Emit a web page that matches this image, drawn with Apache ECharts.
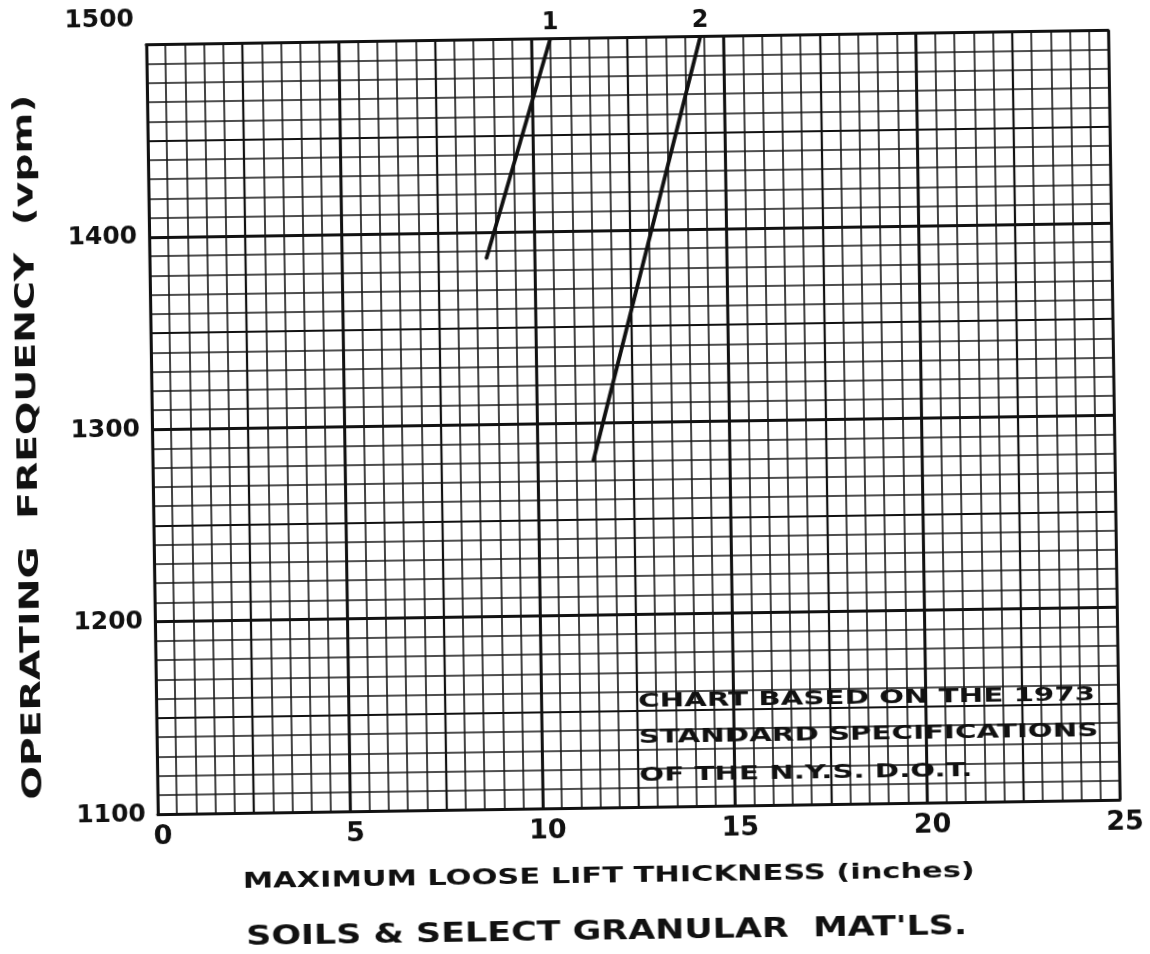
<!DOCTYPE html>
<html>
<head>
<meta charset="utf-8">
<script src="https://cdn.jsdelivr.net/npm/echarts@6/dist/echarts.min.js"></script>
<style>
  html, body { margin: 0; padding: 0; background: #ffffff; }
  #chart { width: 1150px; height: 954px; transform: rotate(-0.86deg); transform-origin: 633px 422px; }
</style>
</head>
<body>
<div id="chart"></div>
<script>
// ---- data ----
const xTicks = [0, 5, 10, 15, 20, 25];
const yTicks = [1100, 1200, 1300, 1400, 1500];
const lineNames = ['1', '2'];
const line1X = [8.75, 10.5];
const line1Y = [1386, 1500];
const line2X = [11.45, 14.4];
const line2Y = [1280, 1500];
const yTitle = 'OPERATING  FREQUENCY  (vpm)';
const xTitle1 = 'MAXIMUM LOOSE LIFT THICKNESS (inches)';
const xTitle2 = "SOILS & SELECT GRANULAR  MAT'LS.";
const noteLines = ['CHART BASED ON THE 1973', 'STANDARD SPECIFICATIONS', 'OF THE N.Y.S. D.O.T.'];

const INK = '#111';
const FONT = '"DejaVu Sans", sans-serif';

const mctx = document.createElement('canvas').getContext('2d');
function textW(txt, size) {
  mctx.font = 'bold ' + size + 'px "DejaVu Sans"';
  return mctx.measureText(txt).width;
}

function pts(xs, ys, name) {
  return xs.map((x, i) => {
    const d = { value: [x, ys[i]] };
    if (i === xs.length - 1) {
      d.label = { show: true, position: 'top', distance: 3, formatter: name,
        fontFamily: FONT, fontWeight: 'bold', fontSize: 24, color: INK };
    }
    return d;
  });
}

function txt(text, x, y, size, target, opts) {
  const sc = target / textW(text, size);
  return Object.assign({
    type: 'text', x: x, y: y, scaleX: sc, scaleY: 1, z: 100,
    style: { text: text, fontFamily: '"DejaVu Sans"', fontWeight: 'bold', fontSize: size,
      fill: INK, align: 'center', verticalAlign: 'middle', textAlign: 'center', textVerticalAlign: 'middle' }
  }, opts || {});
}

const noteSize = 20;
const noteScale = 457 / textW(noteLines[0], noteSize);
const noteY = [702, 738, 776];

const chart = echarts.init(document.getElementById('chart'), null, { renderer: 'canvas' });

const gridLine = (w) => ({ show: true, lineStyle: { color: INK, width: w } });

chart.setOption({
  backgroundColor: '#ffffff',
  animation: false,
  grid: { left: 152, right: 36, top: 37, bottom: 147, containLabel: false },
  xAxis: [
    {
      type: 'value', min: 0, max: 25, interval: 5, position: 'bottom',
      axisLine: { show: true, lineStyle: { color: INK, width: 3 } },
      axisTick: { show: false },
      splitLine: gridLine(2.8),
      minorTick: { show: false, splitNumber: 10 },
      minorSplitLine: { show: true, lineStyle: { color: '#151515', width: 1.6 } },
      axisLabel: {
        margin: 9,
        formatter: (v) => xTicks.includes(v) ? '{a|' + v + '}' : '',
        rich: { a: { fontFamily: FONT, fontWeight: 'bold', fontSize: 27, color: INK, padding: [0, 0, 0, 10] } }
      }
    },
    {
      type: 'value', min: 0, max: 25, interval: 2.5, position: 'top',
      axisLine: { show: true, lineStyle: { color: INK, width: 3 } },
      axisTick: { show: false }, axisLabel: { show: false },
      splitLine: gridLine(2.2)
    }
  ],
  yAxis: [
    {
      type: 'value', min: 1100, max: 1500, interval: 100, position: 'left',
      axisLine: { show: true, lineStyle: { color: INK, width: 3 } },
      axisTick: { show: false },
      splitLine: gridLine(2.8),
      minorTick: { show: false, splitNumber: 10 },
      minorSplitLine: { show: true, lineStyle: { color: '#151515', width: 1.6 } },
      axisLabel: {
        margin: 12,
        formatter: (v) => {
          if (!yTicks.includes(v)) return '';
          return v === yTicks[yTicks.length - 1] ? '{t|' + v + '}' : '{n|' + v + '}';
        },
        rich: {
          n: { fontFamily: FONT, fontWeight: 'bold', fontSize: 25, color: INK },
          t: { fontFamily: FONT, fontWeight: 'bold', fontSize: 25, color: INK, padding: [0, 0, 50, 0] }
        }
      }
    },
    {
      type: 'value', min: 1100, max: 1500, interval: 50, position: 'right',
      axisLine: { show: true, lineStyle: { color: INK, width: 3 } },
      axisTick: { show: false }, axisLabel: { show: false },
      splitLine: gridLine(2.2)
    }
  ],
  series: [
    {
      name: lineNames[0], type: 'line', xAxisIndex: 0, yAxisIndex: 0,
      data: pts(line1X, line1Y, lineNames[0]),
      symbol: 'circle', symbolSize: 2, showSymbol: true,
      itemStyle: { color: INK }, lineStyle: { color: INK, width: 3.8 }, z: 10
    },
    {
      name: lineNames[1], type: 'line', xAxisIndex: 0, yAxisIndex: 0,
      data: pts(line2X, line2Y, lineNames[1]),
      symbol: 'circle', symbolSize: 2, showSymbol: true,
      itemStyle: { color: INK }, lineStyle: { color: INK, width: 3.8 }, z: 10
    }
  ],
  graphic: [
    txt(yTitle, 29, 438, 27, 705, { rotation: Math.PI / 2 }),
    txt(xTitle1, 602, 876, 22, 732),
    txt(xTitle2, 599, 932, 26, 721)
  ].concat(noteLines.map((t, i) => ({
    type: 'text', x: 634, y: noteY[i], scaleX: noteScale, scaleY: 1, z: 100,
    style: { text: t, fontFamily: '"DejaVu Sans"', fontWeight: 'bold', fontSize: noteSize, fill: INK,
      align: 'left', verticalAlign: 'middle', textAlign: 'left', textVerticalAlign: 'middle' }
  })))
});
</script>
</body>
</html>
